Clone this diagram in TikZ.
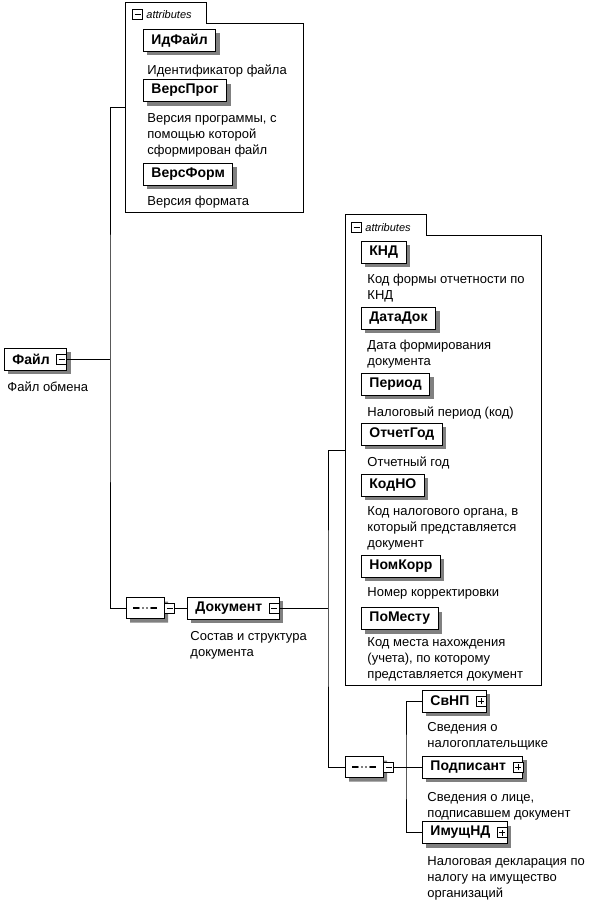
\documentclass[tikz,border=0pt]{standalone}
\usepackage{fontspec}
\setmainfont{Liberation Sans}
\usetikzlibrary{shapes.misc, positioning}

\begin{document}
\begin{tikzpicture}[x=1pt, y=-1pt, line width=0.9pt,
    shade/.style={preaction={fill=black!50, transform canvas={xshift=4pt, yshift=-4pt}}},
    elem/.style={draw, fill=white, shade, anchor=west, minimum height=22pt, inner ysep=0pt, inner xsep=8pt,
      font=\bfseries\fontsize{14}{16}\selectfont},
    elempm/.style={elem, execute at end node=\hspace{9pt}},
    desc/.style={anchor=north west, align=left, inner sep=0pt, font=\fontsize{13}{16}\selectfont},
    attrbox/.style={inner sep=0pt},
    tablabel/.style={inner sep=0pt, font=\itshape\fontsize{11}{13}\selectfont},
    minusbox/.style={draw, fill=white, minimum size=10pt, inner sep=0pt, line width=0.8pt,
      path picture={\draw ([xshift=2pt]path picture bounding box.west) -- ([xshift=-2pt]path picture bounding box.east);}},
    plusbox/.style={draw, fill=white, minimum size=10pt, inner sep=0pt, line width=0.8pt,
      path picture={\draw ([xshift=2pt]path picture bounding box.west) -- ([xshift=-2pt]path picture bounding box.east);
        \draw ([yshift=2pt]path picture bounding box.south) -- ([yshift=-2pt]path picture bounding box.north);}},
    seq/.style={chamfered rectangle, chamfered rectangle xsep=5pt, draw, fill=white, shade, minimum width=38pt, minimum height=21pt, inner sep=0pt,
      path picture={\draw[line width=1.2pt] ([xshift=-12pt]path picture bounding box.center) -- ([xshift=12pt]path picture bounding box.center);
        \foreach \d in {-4,0,4} \fill ([xshift=\d pt]path picture bounding box.center) circle (1.9pt);}}]
  \useasboundingbox (0,0) rectangle (598,907);

  % attribute boxes
  \node[attrbox, minimum width=177pt, minimum height=209pt] (attrA) at (214.5,107.5) {};
  \draw[fill=white] (attrA.south west) -- (attrA.north west) -- ++(81,0) -- ++(0,21)
    -- ([yshift=-21pt]attrA.north east) -- (attrA.south east) -- cycle;
  \node[minusbox] (tabA) at ([xshift=12pt,yshift=-12pt]attrA.north west) {};
  \node[tablabel, right=3pt of tabA] (tabtxtA) {attributes};

  \node[attrbox, minimum width=195pt, minimum height=470pt] (attrB) at (443.5,450) {};
  \draw[fill=white] (attrB.south west) -- (attrB.north west) -- ++(81,0) -- ++(0,21)
    -- ([yshift=-21pt]attrB.north east) -- (attrB.south east) -- cycle;
  \node[minusbox] (tabB) at ([xshift=11pt,yshift=-13pt]attrB.north west) {};
  \node[tablabel, right=3pt of tabB] (tabtxtB) {attributes};

  % root
  \node[elempm] (fajl) at (4,359) {Файл};
  \node[minusbox, anchor=east] (pmFajl) at (fajl.east) {};
  \node[desc] (dFajl) at (7,381) {Файл обмена};

  % attributes of Файл
  \node[elem] (idfajl) at (143,40.5) {ИдФайл};
  \node[desc] (dIdfajl) at (147,64) {Идентификатор файла};
  \node[elem] (versprog) at (143,90.5) {ВерсПрог};
  \node[desc] (dVersprog) at (147,113) {Версия программы, с\\помощью которой\\сформирован файл};
  \node[elem] (versform) at (143,174) {ВерсФорм};
  \node[desc] (dVersform) at (147,196) {Версия формата};

  % Документ
  \node[seq] (seqA) at (145,608) {};
  \node[minusbox, right=0pt of seqA] (pmSeqA) {};
  \node[elempm] (dokument) at (187,608) {Документ};
  \node[minusbox, anchor=east] (pmDok) at (dokument.east) {};
  \node[desc] (dDokument) at (190,631) {Состав и структура\\документа};

  % attributes of Документ
  \node[elem] (knd) at (361,252) {КНД};
  \node[desc] (dKnd) at (367,274) {Код формы отчетности по\\КНД};
  \node[elem] (datadok) at (361,318) {ДатаДок};
  \node[desc] (dDatadok) at (367,340) {Дата формирования\\документа};
  \node[elem] (period) at (361,384) {Период};
  \node[desc] (dPeriod) at (367,406) {Налоговый период (код)};
  \node[elem] (otchetgod) at (361,434) {ОтчетГод};
  \node[desc] (dOtchetgod) at (367,456) {Отчетный год};
  \node[elem] (kodno) at (361,485) {КодНО};
  \node[desc] (dKodno) at (367,506) {Код налогового органа, в\\который представляется\\документ};
  \node[elem] (nomkorr) at (361,566) {НомКорр};
  \node[desc] (dNomkorr) at (367,587) {Номер корректировки};
  \node[elem] (pomestu) at (361,618.5) {ПоМесту};
  \node[desc] (dPomestu) at (367,637) {Код места нахождения\\(учета), по которому\\представляется документ};

  % children of Документ
  \node[seq] (seqB) at (364,767) {};
  \node[minusbox, right=0pt of seqB] (pmSeqB) {};
  \node[elempm] (svnp) at (422,701) {СвНП};
  \node[plusbox, anchor=east] (pmSvnp) at (svnp.east) {};
  \node[desc] (dSvnp) at (427,722) {Сведения о\\налогоплательщике};
  \node[elempm] (podpisant) at (422,767) {Подписант};
  \node[plusbox, anchor=east] (pmPodp) at (podpisant.east) {};
  \node[desc] (dPodpisant) at (427,792) {Сведения о лице,\\подписавшем документ};
  \node[elempm] (imushnd) at (422,832.5) {ИмущНД};
  \node[plusbox, anchor=east] (pmImush) at (imushnd.east) {};
  \node[desc] (dImushnd) at (427,856) {Налоговая декларация по\\налогу на имущество\\организаций};

  % connectors
  \coordinate (busA) at (110,359);
  \coordinate (busB) at (328,608);
  \coordinate (busC) at (406,767);
  \draw (pmFajl.east) -- (busA);
  \draw (attrA.west) -| (busA) |- (seqA.west);
  \draw (pmSeqA.east) -- (dokument.west);
  \draw (pmDok.east) -- (busB);
  \draw (attrB.west) -| (busB) |- (seqB.west);
  \draw (pmSeqB.east) -- (podpisant.west);
  \draw (svnp.west) -| (busC) |- (imushnd.west);
\end{tikzpicture}
\end{document}
